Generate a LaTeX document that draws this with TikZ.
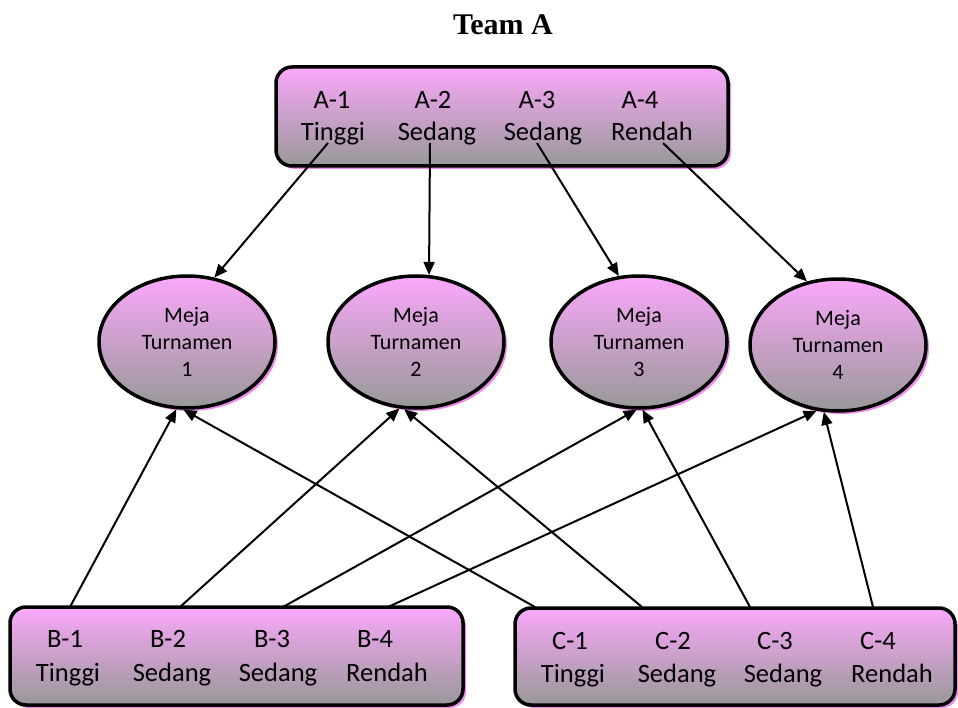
\documentclass[tikz,border=0pt]{standalone}
\usepackage{fontspec}
\setmainfont{Carlito}
\newfontfamily\titlefont{Liberation Serif}
\usetikzlibrary{shapes.geometric,shadows,arrows.meta}
\definecolor{pinktop}{RGB}{250,168,250}
\definecolor{graybot}{RGB}{152,152,152}
\definecolor{shadowpink}{RGB}{238,140,238}
\tikzset{
  teambox/.style={draw=black, line width=3.5pt, rounded corners=16pt,
    top color=pinktop, bottom color=graybot,
    drop shadow={shadow xshift=3pt, shadow yshift=-3pt, fill=shadowpink, opacity=1}},
  meja/.style={ellipse, draw=black, line width=3.5pt, inner sep=0pt,
    minimum width=176pt, minimum height=132pt, align=center,
    top color=pinktop, bottom color=graybot,
    font=\fontsize{22}{27}\selectfont,
    drop shadow={shadow xshift=3pt, shadow yshift=-3pt, fill=shadowpink, opacity=1}},
  lbl/.style={anchor=base, inner sep=0pt, font=\fontsize{26.5}{31}\selectfont},
  conn/.style={line width=2pt, -{Triangle[length=13pt,width=11pt]}}
}
\begin{document}
\begin{tikzpicture}[x=1pt,y=-1pt]
\useasboundingbox (0,0) rectangle (958,708);
\node[anchor=base, inner sep=0pt, font=\titlefont\bfseries\fontsize{30}{35}\selectfont] (title) at (503,35) {Team A};

% boxes
\node[teambox, minimum width=452pt, minimum height=99pt] (boxA) at (502,116.5) {};
\node[teambox, minimum width=453pt, minimum height=98pt] (boxB) at (236.5,656) {};
\node[teambox, minimum width=440pt, minimum height=97pt] (boxC) at (735,656.5) {};

% texts A
\node[lbl] (A1) at (332,108.5) {A-1};
\node[lbl] (A2) at (433,108.5) {A-2};
\node[lbl] (A3) at (537,108.5) {A-3};
\node[lbl] (A4) at (640,108.5) {A-4};
\node[lbl] (A1t) at (333,141) {Tinggi};
\node[lbl] (A2t) at (437,141) {Sedang};
\node[lbl] (A3t) at (543,141) {Sedang};
\node[lbl] (A4t) at (652,141) {Rendah};
% texts B
\node[lbl] (B1) at (65,647) {B-1};
\node[lbl] (B2) at (168,647) {B-2};
\node[lbl] (B3) at (272,647) {B-3};
\node[lbl] (B4) at (375,647) {B-4};
\node[lbl] (B1t) at (68,681) {Tinggi};
\node[lbl] (B2t) at (172,681) {Sedang};
\node[lbl] (B3t) at (278,681) {Sedang};
\node[lbl] (B4t) at (387,681) {Rendah};
% texts C
\node[lbl] (C1) at (570,649) {C-1};
\node[lbl] (C2) at (673,649) {C-2};
\node[lbl] (C3) at (775,649) {C-3};
\node[lbl] (C4) at (878,649) {C-4};
\node[lbl] (C1t) at (573,682) {Tinggi};
\node[lbl] (C2t) at (677,682) {Sedang};
\node[lbl] (C3t) at (783,682) {Sedang};
\node[lbl] (C4t) at (892,682) {Rendah};

% ellipses
\node[meja] (e1) at (187,342) {Meja\\Turnamen\\1};
\node[meja] (e2) at (416,342) {Meja\\Turnamen\\2};
\node[meja] (e3) at (639,342) {Meja\\Turnamen\\3};
\node[meja] (e4) at (838,345) {Meja\\Turnamen\\4};

% start coordinates
\coordinate (a1s) at (328,143);
\coordinate (a2s) at (430,143);
\coordinate (a3s) at (537,143);
\coordinate (a4s) at (663,143);
\coordinate (b1s) at (70,607);
\coordinate (b2s) at (180,607);
\coordinate (b3s) at (283,607);
\coordinate (b4s) at (388,607);
\coordinate (c1s) at (535,607);
\coordinate (c2s) at (642,607);
\coordinate (c3s) at (750,607);
\coordinate (c4s) at (873,607);

% connectors
\draw[conn] (a1s) -- (e1.67);
\draw[conn] (a2s) -- (e2.79);
\draw[conn] (a3s) -- (e3.107);
\draw[conn] (a4s) -- (e4.116);
\draw[conn] (b1s) -- (e1.261);
\draw[conn] (b2s) -- (e2.256);
\draw[conn] (b3s) -- (e3.268);
\draw[conn] (b4s) -- (e4.252);
\draw[conn] (c1s) -- (e1.267);
\draw[conn] (c2s) -- (e2.260);
\draw[conn] (c3s) -- (e3.273);
\draw[conn] (c4s) -- (e4.258);
\end{tikzpicture}
\end{document}
